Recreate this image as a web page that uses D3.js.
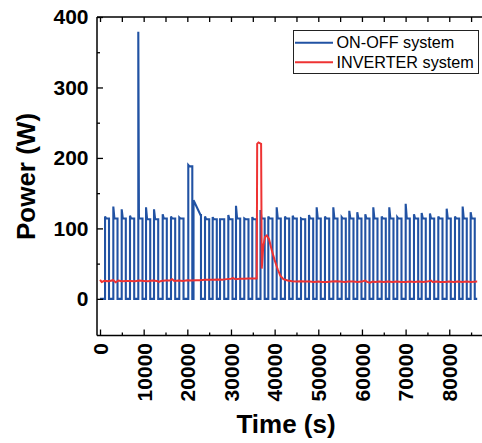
<!DOCTYPE html>
<html><head><meta charset="utf-8">
<script src="https://cdn.jsdelivr.net/npm/d3@7/dist/d3.min.js"></script>
<style>
body{margin:0;background:#fff;}
svg{display:block;font-family:"Liberation Sans",Arial,sans-serif;}
</style></head>
<body>
<svg id="chart" width="482" height="443"></svg>
<script>
// ON-OFF system: compressor cycles (time in s, power in W)
const onT  = [1150,3050,4970,6870,8770,10540,12370,14360,16260,18160,20220,21420,24050,25810,27490,29390,31150,33050,34880,36760,38550,40470,42370,44140,46040,47870,49630,51530,53440,55360,57100,58930,60770,62600,64520,66260,68090,70020,71920,73680,75580,77490,79410,81310,83070,84900];
const offT = [2060,4010,5910,7830,9730,11500,13330,15300,17220,19130,21140,23130,25010,26750,28450,30350,32110,34010,35850,37720,39510,41410,43330,45080,47000,48830,50570,52500,54400,56300,58060,59890,61730,63560,65460,67220,69060,70960,72880,74620,76550,78450,80350,82270,84010,85840];
const peakW = [117,131,127,118,379,130,127,120,117,115.5,190,140,117,116,113,119,132,114,116,126,117,130,117,118,114,119,130,117,130,116,125,123,120,130,117,130,116,135,120,122,121,117,128,117,131,123];
const plateauW = [114,114,114,114,114,113,113,114,114,114,188,119,113,113,113,113,114,113,113,114,114,114,114,114,113,114,114,114,114,114,114,114,114,114,114,114,114,114,114,114,114,114,114,114,114,114];
const rampT = [250,250,250,250,150,250,250,250,250,250,300,1600,250,250,250,250,250,250,250,250,250,250,250,250,250,250,250,250,250,250,250,250,250,250,250,250,250,250,250,250,250,250,250,250,250,250];
const endT = 86400;

// INVERTER system
const invT = [0,400,1000,2000,3000,3600,4200,5000,6000,7000,8000,9000,10000,11000,12000,13000,13500,14000,15000,16000,16500,17000,18000,19000,20000,21000,22000,23000,24000,25000,26000,27000,28000,29000,30000,30500,31000,32000,33000,34000,35000,35900,36000,36300,36900,37050,37400,37800,38200,38700,39300,40000,40700,41300,42000,43000,44000,45000,46000,47000,48000,49000,50000,51000,52000,53000,54000,55000,56000,57000,58000,59000,60000,60700,61200,61800,62500,63000,64000,65000,66000,67000,68000,69000,70000,71000,72000,73000,74000,75000,75800,76200,77000,78000,79000,80000,81000,82000,83000,84000,85000,86400];
const invW = [27,24,25.5,25,26.5,23.5,26,25,25.5,25.5,25,26,25.5,25,26,25.5,24,25.5,26,26,28,25.5,26,25.5,26.5,26,26.5,26.5,27,27,27,27.5,27,28,28.5,29.5,28,28.5,28.5,29,29,29,220,222,220,43,75,88,90,85,70,55,42,33,28,26,25,24.5,25,24.5,24.5,24,24.5,24,24,24.5,25,24.5,24,24.5,24.5,24,24.5,26,24,23,24.5,24,24.5,24,24.5,24,24.5,24,24,24.5,24,24.5,24,24.5,26,24,24.5,24,24,24.5,24,24.5,24,24.5,24,24.5];

const xMajor = [0,10000,20000,30000,40000,50000,60000,70000,80000];
const xMinor = [5000,15000,25000,35000,45000,55000,65000,75000,85000];
const yMajor = [0,100,200,300,400];
const yMinor = [50,150,250,350];
const seriesNames = ["ON-OFF system","INVERTER system"];
const colors = ["#2152a3","#ee3333"];

// build tables
const onoff = [[0,0]];
onT.forEach((t,i)=>{
  onoff.push([t,0],[t,peakW[i]],[t+rampT[i],plateauW[i]],[offT[i],plateauW[i]],[offT[i],0]);
});
onoff.push([endT,0]);
const inverter = invT.map((t,i)=>[t,invW[i]]);

const svg = d3.select("#chart");
const L=97, R=482, T=17, B=335.5;
const x = d3.scaleLinear().domain([-690,87500]).range([L,R]);
const y = d3.scaleLinear().domain([-52,400]).range([B,T]);

const line = d3.line().x(d=>x(d[0])).y(d=>y(d[1]));
svg.append("clipPath").attr("id","c").append("rect").attr("x",L).attr("y",T).attr("width",R-L).attr("height",B-T);
const plot = svg.append("g").attr("clip-path","url(#c)");
plot.append("path").datum(onoff).attr("d",line).attr("fill","none").attr("stroke",colors[0]).attr("stroke-width",2.1).attr("stroke-linejoin","miter");
plot.append("path").datum(inverter).attr("d",line).attr("fill","none").attr("stroke",colors[1]).attr("stroke-width",2);

function style(g){ g.select(".domain").remove(); g.selectAll("line").attr("stroke","#000").attr("stroke-width",1.3); }

// bottom axis
const gb = svg.append("g").attr("transform",`translate(0,${B})`)
  .call(d3.axisBottom(x).tickValues(xMajor).tickSize(-6).tickSizeOuter(0).tickFormat(d3.format("d"))).call(style);
gb.selectAll("text").attr("transform","rotate(-90)").attr("x",-7.5).attr("y",0).attr("dy","0.35em")
  .attr("text-anchor","end").attr("font-size",21).attr("font-weight","bold").attr("fill","#000")
  .attr("font-family","'Liberation Sans',Arial,sans-serif");
svg.append("g").attr("transform",`translate(0,${B})`)
  .call(d3.axisBottom(x).tickValues(xMinor).tickSize(-3).tickSizeOuter(0).tickFormat("")).call(style);
// top axis
svg.append("g").attr("transform",`translate(0,${T})`)
  .call(d3.axisTop(x).tickValues(xMajor.concat(xMinor)).tickSize(-5).tickSizeOuter(0).tickFormat("")).call(style);
// left axis
const gl = svg.append("g").attr("transform",`translate(${L},0)`)
  .call(d3.axisLeft(y).tickValues(yMajor).tickSize(-6).tickSizeOuter(0).tickPadding(8.5)).call(style);
gl.selectAll("text").attr("font-size",21).attr("font-weight","bold").attr("fill","#000")
  .attr("font-family","'Liberation Sans',Arial,sans-serif");
svg.append("g").attr("transform",`translate(${L},0)`)
  .call(d3.axisLeft(y).tickValues(yMinor).tickSize(-3).tickSizeOuter(0).tickFormat("")).call(style);

// frame
svg.append("line").attr("x1",L).attr("x2",R).attr("y1",T).attr("y2",T).attr("stroke","#000").attr("stroke-width",1.5);
svg.append("line").attr("x1",L).attr("x2",R).attr("y1",B).attr("y2",B).attr("stroke","#000").attr("stroke-width",1.5);
svg.append("line").attr("x1",L).attr("x2",L).attr("y1",T).attr("y2",B).attr("stroke","#000").attr("stroke-width",1.5);

// titles
svg.append("text").attr("x",286).attr("y",433).attr("text-anchor","middle").attr("font-size",26).attr("font-weight","bold").text("Time (s)");
svg.append("text").attr("transform","translate(35,176.5) rotate(-90)").attr("text-anchor","middle").attr("font-size",26).attr("font-weight","bold").text("Power (W)");

// legend
const lg = svg.append("g");
lg.append("rect").attr("x",293.5).attr("y",30.5).attr("width",185).attr("height",43).attr("fill","#fff").attr("stroke","#222").attr("stroke-width",1);
seriesNames.forEach((n,i)=>{
  const yy = 42.7 + i*19.5;
  lg.append("line").attr("x1",295).attr("x2",333).attr("y1",yy).attr("y2",yy).attr("stroke",colors[i]).attr("stroke-width",2);
  lg.append("text").attr("x",336.5).attr("y",yy).attr("dy","0.35em").attr("font-size",16.2).text(n);
});
</script>
</body></html>
